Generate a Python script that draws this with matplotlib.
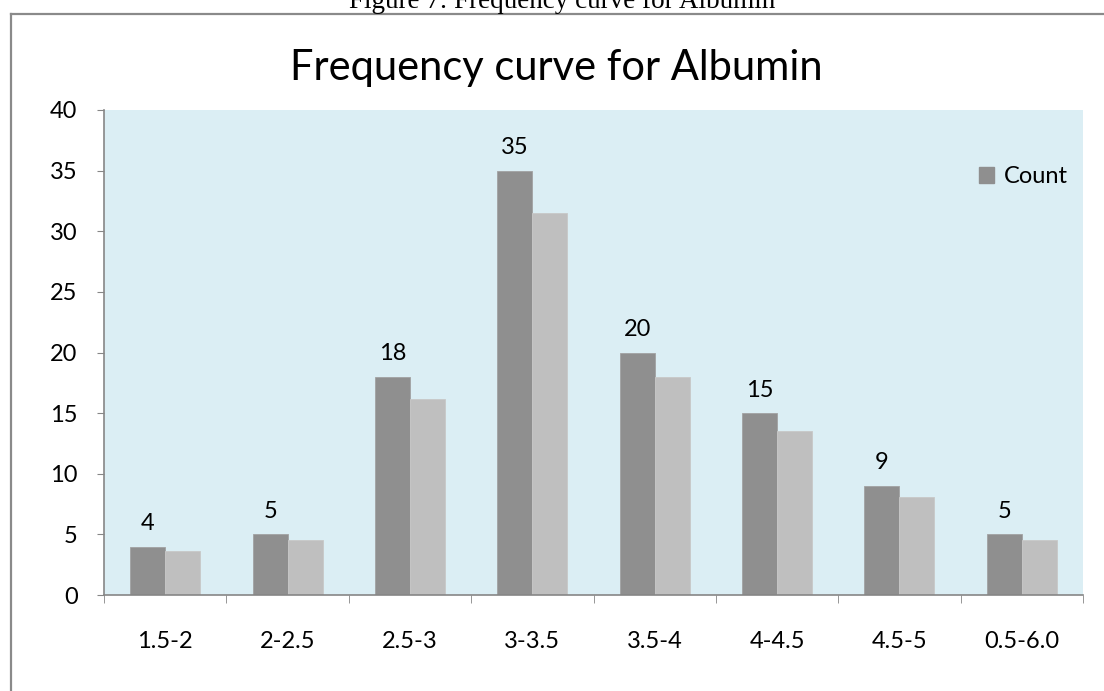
import numpy as np
import matplotlib.pyplot as plt
from matplotlib.patches import Patch
from matplotlib.lines import Line2D

categories = ['1.5-2', '2-2.5', '2.5-3', '3-3.5', '3.5-4', '4-4.5', '4.5-5', '0.5-6.0']
count = [4, 5, 18, 35, 20, 15, 9, 5]
second = [3.6, 4.5, 16.2, 31.5, 18, 13.5, 8.1, 4.5]

plt.rcParams['font.family'] = ['Lato', 'DejaVu Sans']
fs = 17

fig = plt.figure(figsize=(11.04, 6.91), dpi=100)
ax = fig.add_axes([104/1104, 1 - 595/691, (1083-104)/1104, (595-110)/691])
ax.set_facecolor('#dbeef4')

x = np.arange(len(categories))
w = 0.286
ax.bar(x - w/2, count, w, color='#8f8f8f', edgecolor='#a2a2a2', linewidth=0.6, label='Count')
ax.bar(x + w/2, second, w, color='#bfbfbf', edgecolor='#c8c8c8', linewidth=0.6)

for xi, v in zip(x, count):
    ax.annotate(str(v), (xi - w/2, v), xytext=(0, 9), textcoords='offset points',
                ha='center', va='bottom', fontsize=fs)

ax.set_xlim(-0.5, len(categories) - 0.5)
ax.set_ylim(0, 40)
ax.set_yticks(range(0, 41, 5))
ax.set_xticks(x)
ax.set_xticklabels(categories, fontsize=fs)
ax.set_xticks(np.arange(-0.5, len(categories)), minor=True)
ax.tick_params(axis='x', which='major', length=0, pad=26)
ax.tick_params(axis='x', which='minor', length=6, color='#868686', direction='out')
ax.tick_params(axis='y', length=5, color='#868686', labelsize=fs, pad=14)
for s in ['top', 'right']:
    ax.spines[s].set_visible(False)
for s in ['left', 'bottom']:
    ax.spines[s].set_color('#868686')
    ax.spines[s].set_linewidth(1.2)

ax.legend(handles=[Patch(color='#8f8f8f', label='Count')], loc='center right',
          bbox_to_anchor=(1.0, 1 - 67/485), frameon=False, fontsize=fs,
          handlelength=0.65, handleheight=0.65, handletextpad=0.4, borderaxespad=0.25)

fig.text(556/1104, 1 - 68/691, 'Frequency curve for Albumin', ha='center', va='center', fontsize=30)
fig.text(562/1104, 1 - 8/691, 'Figure 7: Frequency curve for Albumin', ha='center', va='baseline',
         fontsize=19.5, family='Liberation Serif')

# outer frame of the chart
fig.add_artist(Line2D([11/1104, 1.0], [1 - 14/691, 1 - 14/691], color='#8a8a8a', lw=1.6))
fig.add_artist(Line2D([11/1104, 11/1104], [0, 1 - 14/691], color='#8a8a8a', lw=1.6))

fig.savefig('out.png', dpi=100)
